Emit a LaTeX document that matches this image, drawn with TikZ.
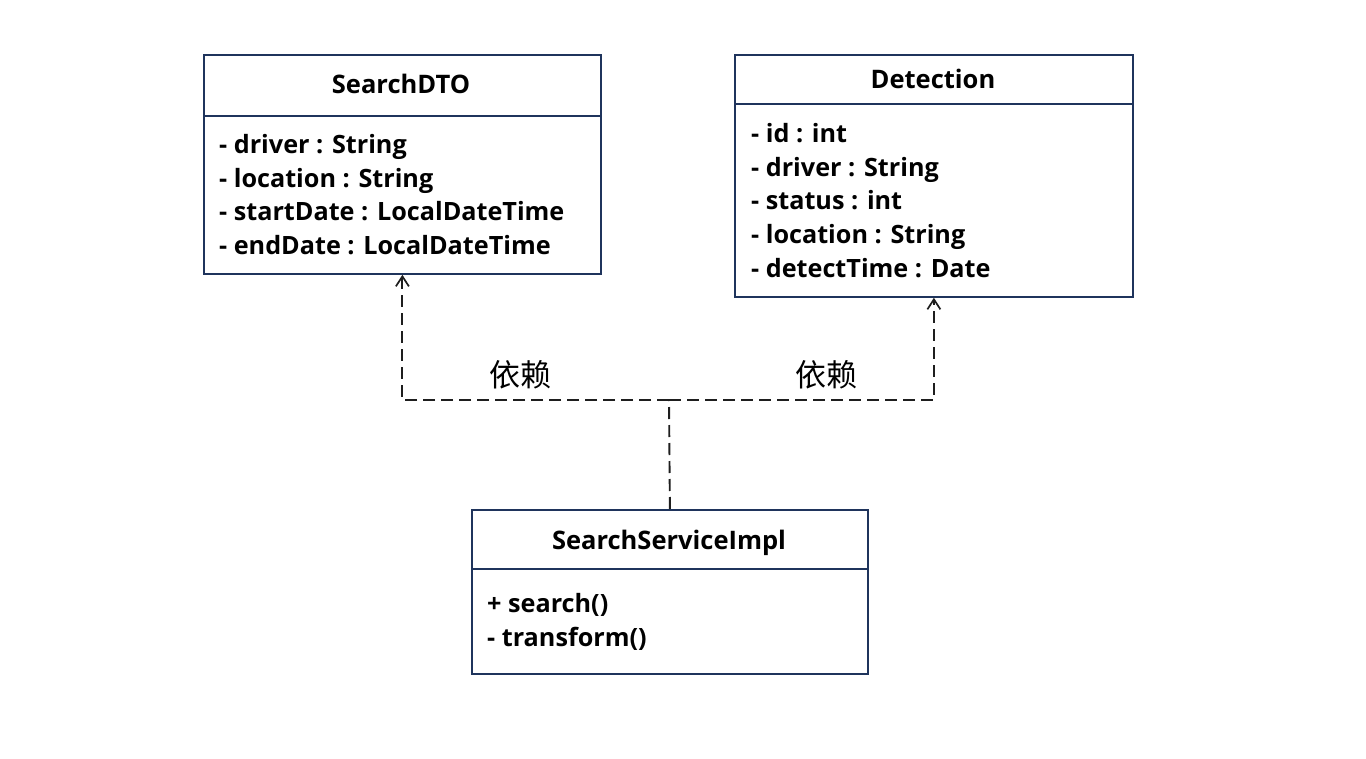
\documentclass[tikz,border=0pt]{standalone}
\usepackage{fontspec}
\setmainfont{Open Sans}
\newfontfamily\cjkfont{Noto Sans CJK SC}
\usetikzlibrary{arrows.meta}
\definecolor{boxc}{RGB}{31,52,92}
\definecolor{linec}{RGB}{30,30,30}
\tikzset{
  umlbox/.style={draw=boxc, line width=1.8pt, fill=white, anchor=north west, inner sep=0pt},
  divider/.style={draw=boxc, line width=1.8pt},
  title/.style={font=\bfseries\fontsize{25.5}{30}\selectfont, inner sep=0pt, anchor=base},
  attr/.style={font=\bfseries\fontsize{25.2}{30}\selectfont, inner sep=0pt, anchor=base west},
  deplabel/.style={font=\cjkfont\fontsize{31}{36}\selectfont, inner sep=0pt},
  dep/.style={draw=linec, line width=1.9pt, dash pattern=on 12pt off 6pt},
  deparrow/.style={dep, -{Straight Barb[length=10pt,width=13pt,line width=1.7pt]}},
}
\begin{document}
\begin{tikzpicture}[x=1pt,y=-1pt]
\useasboundingbox (0,0) rectangle (1366,759);
% SearchDTO
\node[umlbox, minimum width=397pt, minimum height=219pt] (dto) at (203,54) {};
\draw[divider] (203,116) -- (600,116);
\node[title] (dtoT) at (401,94) {SearchDTO};
\node[attr] (dto1) at (219,154) {- driver : String};
\node[attr] (dto2) at (219,188) {- location : String};
\node[attr] (dto3) at (219,221) {- startDate : LocalDateTime};
\node[attr] (dto4) at (219,255) {- endDate : LocalDateTime};
% Detection
\node[umlbox, minimum width=398pt, minimum height=242pt] (det) at (734,54) {};
\draw[divider] (734,104) -- (1132,104);
\node[title] (detT) at (933,89) {Detection};
\node[attr] (det1) at (751,143) {- id : int};
\node[attr] (det2) at (751,177) {- driver : String};
\node[attr] (det3) at (751,210) {- status : int};
\node[attr] (det4) at (751,244) {- location : String};
\node[attr] (det5) at (751,278) {- detectTime : Date};
% SearchServiceImpl
\node[umlbox, minimum width=396pt, minimum height=164pt] (svc) at (471,509) {};
\draw[divider] (471,569) -- (867,569);
\node[title] (svcT) at (669,549) {SearchServiceImpl};
\node[attr] (svc1) at (487,612) {+ search()};
\node[attr] (svc2) at (487,646) {- transform()};
% connectors
\coordinate (j) at (669,400);
\draw[dep] (svc.north) -- (j);
\draw[deparrow] (j) -| (dto.south);
\draw[deparrow] (j) -| (det.south);
\node[deplabel] (l1) at (520,375) {依赖};
\node[deplabel] (l2) at (826,375) {依赖};
\end{tikzpicture}
\end{document}
